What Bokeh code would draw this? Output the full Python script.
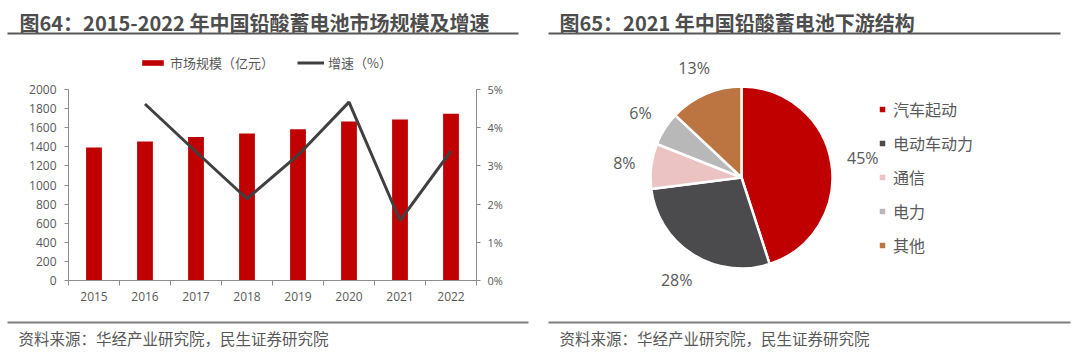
import math
from bokeh.plotting import figure
from bokeh.layouts import row, column
from bokeh.models import (Range1d, LinearAxis, FixedTicker, PrintfTickFormatter,
                          Legend, LegendItem, ColumnDataSource)
from bokeh.core.properties import value
from bokeh.embed import file_html
from bokeh.resources import INLINE

# ---------------- data ----------------
years = ["2015", "2016", "2017", "2018", "2019", "2020", "2021", "2022"]
market_size = [1392, 1455, 1503, 1538, 1584, 1664, 1686, 1746]
growth_pct = [float("nan"), 4.62, 3.37, 2.14, 3.28, 4.67, 1.57, 3.39]

segments = ["汽车起动", "电动车动力", "通信", "电力", "其他"]
shares = [45, 28, 8, 6, 13]
seg_colors = ["#C00000", "#4B4B4D", "#EBC3C3", "#B8B8B8", "#BC7440"]

left_title = "图64：2015-2022 年中国铅酸蓄电池市场规模及增速"
right_title = "图65：2021 年中国铅酸蓄电池下游结构"
source_note = "资料来源：华经产业研究院，民生证券研究院"
bar_label = "市场规模（亿元）"
line_label = "增速（%）"

CJK = "Noto Sans CJK SC"
NUM = "Open Sans"
TXT = "#595959"
TITLE_C = "#4D4D4D"
RULE_C = "#595959"
W, H = 540, 353


def blank(width, height):
    f = figure(width=width, height=height, output_backend="svg", toolbar_location=None,
               x_range=Range1d(0, width), y_range=Range1d(0, height), min_border=0,
               x_axis_type=None, y_axis_type=None, frame_align=False)
    f.outline_line_color = None
    f.grid.visible = False
    return f


# ---------------- left header ----------------
HH = 40
hL = blank(W, HH)
hL.text(x=[19], y=[HH - 22], text=[left_title], text_font=value(CJK), text_font_size="20px",
        text_font_style="bold", text_color=TITLE_C, text_baseline="middle")
hL.quad(left=[7], right=[518], top=[HH - 32], bottom=[HH - 34], fill_color=RULE_C, line_color=None)

# ---------------- left bar/line chart ----------------
FL, FR = 68, 476            # frame left/right (px)
FT, FB = 40, 280            # frame top/bottom (page px)
Y0, Y2000 = 280, 89         # page px of value 0 and 2000
PH = 280                    # figure height -> page 40..320
ymax = 2000 * (FB - FT) / (Y0 - Y2000)
gmax = 5 * (FB - FT) / (Y0 - Y2000)

p = figure(width=W, height=PH, output_backend="svg", toolbar_location=None,
           x_range=Range1d(0, len(years)), y_range=Range1d(0, ymax),
           min_border_left=FL, min_border_right=W - FR, min_border_top=0,
           min_border_bottom=PH - (FB - FT), x_axis_type=None, y_axis_type=None,
           frame_align=False)
p.outline_line_color = None
p.grid.visible = False

xs = [i + 0.5 for i in range(len(years))]
src = ColumnDataSource(dict(x=xs, year=years, size=market_size, g=growth_pct))
bars = p.vbar(x="x", top="size", width=0.31, source=src, fill_color="#C00000", line_color=None)
p.extra_y_ranges = {"g": Range1d(0, gmax)}
gline = p.line(x="x", y="g", source=src, y_range_name="g", line_color="#404040", line_width=3)

axis_col = "#8C8C8C"
yax = LinearAxis(ticker=FixedTicker(ticks=list(range(0, 2001, 200))), bounds=(0, 2000))
xax = LinearAxis(ticker=FixedTicker(ticks=xs, minor_ticks=list(range(0, len(years) + 1))))
xax.major_label_overrides = {x: y for x, y in zip(xs, years)}
rax = LinearAxis(y_range_name="g", ticker=FixedTicker(ticks=[0, 1, 2, 3, 4, 5]),
                 formatter=PrintfTickFormatter(format="%d%%"), bounds=(0, 5))
for ax in (yax, xax, rax):
    ax.axis_line_color = axis_col
    ax.major_tick_line_color = axis_col
    ax.minor_tick_line_color = axis_col
    ax.major_tick_out = 4
    ax.major_tick_in = 0
    ax.minor_tick_in = 0
    ax.minor_tick_out = 0
    ax.major_label_text_font = NUM
    ax.major_label_text_font_size = "12px"
    ax.major_label_text_color = TXT
xax.major_tick_out = 0
xax.minor_tick_out = 5
xax.major_label_standoff = 6
rax.major_label_text_font_size = "11px"
rax.major_label_standoff = 7
yax.major_label_standoff = 8
p.add_layout(yax, "left")
p.add_layout(xax, "below")
p.add_layout(rax, "right")

leg = Legend(items=[LegendItem(label=bar_label, renderers=[bars]),
                    LegendItem(label=line_label, renderers=[gline])],
             orientation="horizontal", location=(139 - FL, FB - 71.5))
leg.label_text_font = CJK
leg.label_text_font_size = "13px"
leg.label_text_color = TXT
leg.glyph_width = 27
leg.glyph_height = 7
leg.label_height = 18
leg.label_standoff = 4
leg.spacing = 23
leg.padding = 0
leg.margin = 0
leg.border_line_color = None
leg.background_fill_alpha = 0
p.add_layout(leg, "center")

# ---------------- left footer ----------------
FH = H - HH - PH
fL = blank(W, FH)
fL.quad(left=[7], right=[528], top=[FH - 1], bottom=[FH - 3], fill_color="#7F7F7F", line_color=None)
fL.text(x=[18], y=[FH - 17], text=[source_note], text_font=value(CJK), text_font_size="15.5px",
        text_color=TXT, text_baseline="middle")

# ---------------- right panel (pie) ----------------
q = blank(W, H)
cx, cy, R = 741 - 540, H - 177, 91
total = float(sum(shares))
starts, ends, lx, ly, labs = [], [], [], [], []
c = 0.0
for s in shares:
    c0, c1 = c / total, (c + s) / total
    starts.append(math.pi / 2 - 2 * math.pi * c1)
    ends.append(math.pi / 2 - 2 * math.pi * c0)
    mid = math.pi / 2 - 2 * math.pi * (c0 + c1) / 2
    lab = f"{s}%"
    half_w = (9.2 * (len(lab) - 1) + 14) / 2
    dist = 1.16 * R + half_w * abs(math.cos(mid)) + 8 * abs(math.sin(mid))
    lx.append(cx + dist * math.cos(mid))
    ly.append(cy + dist * math.sin(mid))
    labs.append(lab)
    c += s

psrc = ColumnDataSource(dict(seg=segments, start=starts, end=ends, color=seg_colors,
                             lx=lx, ly=ly, lab=labs))
wed = q.wedge(x=cx, y=cy, radius=R, start_angle="start", end_angle="end",
              fill_color="color", line_color="white", line_width=2.5, source=psrc)
q.text(x="lx", y="ly", text="lab", source=psrc, text_font=value(NUM),
       text_font_size="16px", text_color=TXT, text_align="center", text_baseline="middle")

pleg = Legend(items=[LegendItem(label=s, renderers=[wed], index=i) for i, s in enumerate(segments)],
              location=(877 - 540, H - 257))
pleg.label_text_font = CJK
pleg.label_text_font_size = "16px"
pleg.label_text_color = TXT
pleg.glyph_width = 10
pleg.glyph_height = 10
pleg.label_height = 20
pleg.label_standoff = 6
pleg.spacing = 10
pleg.padding = 0
pleg.margin = 0
pleg.border_line_color = None
pleg.background_fill_alpha = 0
q.add_layout(pleg, "center")

q.text(x=[19], y=[H - 22], text=[right_title], text_font=value(CJK), text_font_size="20px",
       text_font_style="bold", text_color=TITLE_C, text_baseline="middle")
q.quad(left=[8], right=[520], top=[H - 32], bottom=[H - 34], fill_color=RULE_C, line_color=None)
q.quad(left=[8], right=[530], top=[H - 321], bottom=[H - 323], fill_color="#7F7F7F", line_color=None)
q.text(x=[19], y=[H - 337], text=[source_note], text_font=value(CJK), text_font_size="15.5px",
       text_color=TXT, text_baseline="middle")

layout = row(column(hL, p, fL, spacing=0), q, spacing=0)
open("out.html", "w").write(file_html(layout, INLINE))
